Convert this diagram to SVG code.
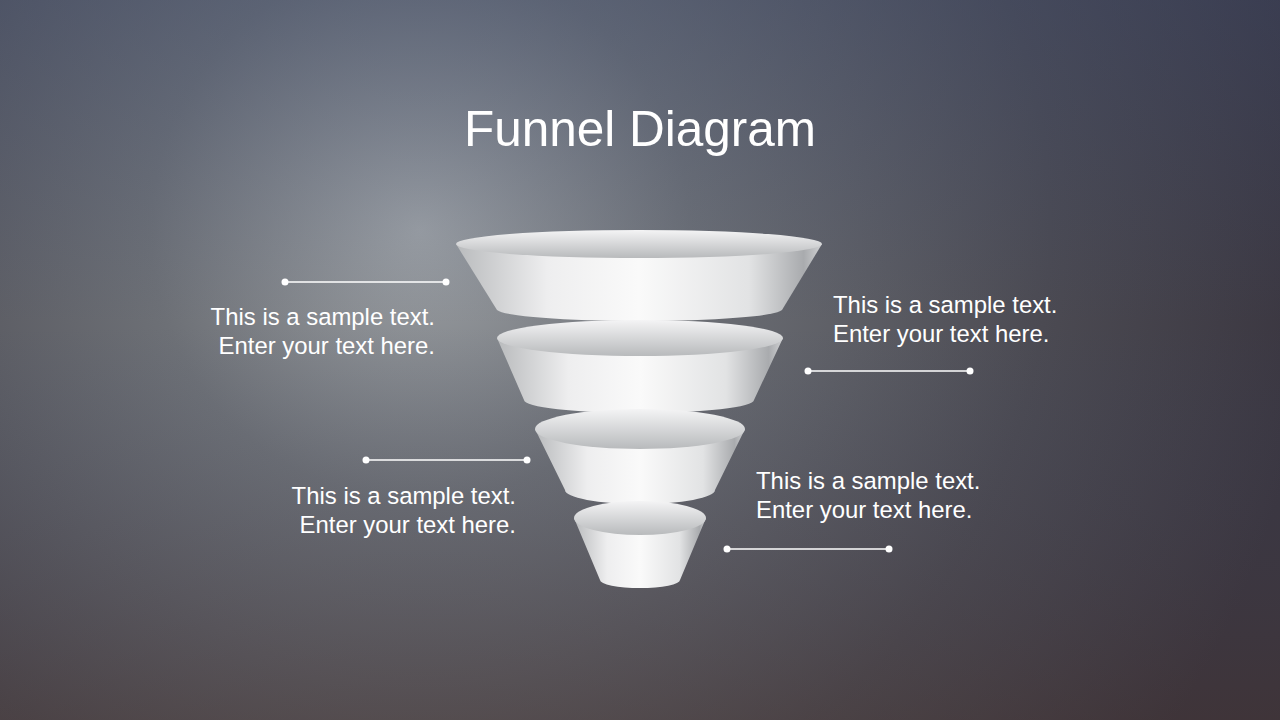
<svg xmlns="http://www.w3.org/2000/svg" width="1280" height="720" viewBox="0 0 1280 720">
<defs>
<radialGradient id="bg" cx="420" cy="230" r="900" gradientUnits="userSpaceOnUse">
<stop offset="0" stop-color="#9ea2a6"/>
<stop offset="0.3" stop-color="#6d7076"/>
<stop offset="0.7" stop-color="#4b4a52"/>
<stop offset="1" stop-color="#3a3640"/>
</radialGradient>
<linearGradient id="tint" x1="0" y1="0" x2="0" y2="1">
<stop offset="0" stop-color="#3a4a70" stop-opacity="0.35"/>
<stop offset="0.45" stop-color="#3a4a70" stop-opacity="0"/>
<stop offset="1" stop-color="#4a3028" stop-opacity="0.3"/>
</linearGradient>
<linearGradient id="side" x1="0" y1="0" x2="1" y2="0">
<stop offset="0" stop-color="#b9bbbd"/>
<stop offset="0.25" stop-color="#eeeeef"/>
<stop offset="0.5" stop-color="#fafafa"/>
<stop offset="0.8" stop-color="#e2e3e4"/>
<stop offset="0.95" stop-color="#a9abae"/>
<stop offset="1" stop-color="#d0d1d3"/>
</linearGradient>
<linearGradient id="top" x1="0" y1="0" x2="0" y2="1">
<stop offset="0" stop-color="#f4f4f5"/>
<stop offset="1" stop-color="#b8babc"/>
</linearGradient>
<style>
.t{font-family:"Liberation Sans",Arial,sans-serif;font-size:23.9px;fill:#fff}
.l{stroke:#fff;stroke-width:1.5}
.d{fill:#fff}
</style>
</defs>
<rect width="1280" height="720" fill="url(#bg)"/>
<rect width="1280" height="720" fill="url(#tint)"/>
<text x="640" y="146" text-anchor="middle" font-family="Liberation Sans,Arial,sans-serif" font-size="49.5" fill="#fff">Funnel Diagram</text>
<g id="seg1">
<path d="M456,244 L497,310 A143,12 0 0 0 782,310 L822,244 Z" fill="url(#side)"/>
<ellipse cx="639" cy="244" rx="183" ry="14" fill="url(#top)"/>
</g>
<g id="seg2">
<path d="M497,338 L524,400 A115,13 0 0 0 754,400 L783,338 Z" fill="url(#side)"/>
<ellipse cx="640" cy="338" rx="143" ry="18" fill="url(#top)"/>
</g>
<g id="seg3">
<path d="M535,429 L565,490 A75,14 0 0 0 715,490 L745,429 Z" fill="url(#side)"/>
<ellipse cx="640" cy="429" rx="105" ry="20" fill="url(#top)"/>
</g>
<g id="seg4">
<path d="M574,518 L600,580 A40,8 0 0 0 680,580 L706,518 Z" fill="url(#side)"/>
<ellipse cx="640" cy="518" rx="66" ry="17" fill="url(#top)"/>
</g>
<g id="connectors">
<line class="l" x1="285" y1="282" x2="446" y2="282"/><circle class="d" cx="285" cy="282" r="3.5"/><circle class="d" cx="446" cy="282" r="3.5"/>
<line class="l" x1="808" y1="371" x2="970" y2="371"/><circle class="d" cx="808" cy="371" r="3.5"/><circle class="d" cx="970" cy="371" r="3.5"/>
<line class="l" x1="366" y1="460" x2="527" y2="460"/><circle class="d" cx="366" cy="460" r="3.5"/><circle class="d" cx="527" cy="460" r="3.5"/>
<line class="l" x1="727" y1="549" x2="889" y2="549"/><circle class="d" cx="727" cy="549" r="3.5"/><circle class="d" cx="889" cy="549" r="3.5"/>
</g>
<g id="text1"><text class="t" x="435" y="325" text-anchor="end">This is a sample text.</text><text class="t" x="435" y="354" text-anchor="end">Enter your text here.</text></g>
<g id="text2"><text class="t" x="833" y="313">This is a sample text.</text><text class="t" x="833" y="342">Enter your text here.</text></g>
<g id="text3"><text class="t" x="516" y="504" text-anchor="end">This is a sample text.</text><text class="t" x="516" y="533" text-anchor="end">Enter your text here.</text></g>
<g id="text4"><text class="t" x="756" y="489">This is a sample text.</text><text class="t" x="756" y="518">Enter your text here.</text></g>
</svg>
